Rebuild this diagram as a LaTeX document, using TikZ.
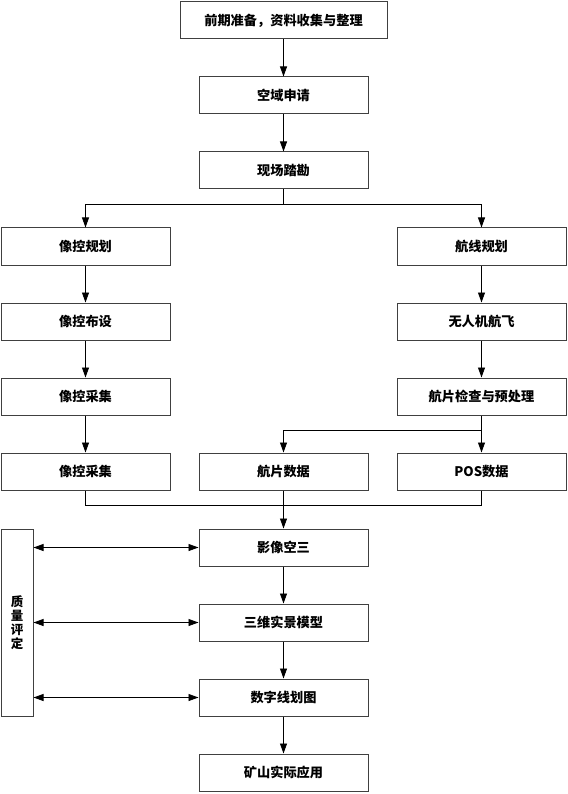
\documentclass[tikz,border=0pt]{standalone}
\usepackage{fontspec}
\usetikzlibrary{arrows.meta}
\newfontfamily\cjk{Noto Sans CJK SC}

\begin{document}
\begin{tikzpicture}[x=1pt,y=-1pt,line width=0.8pt,
    font=\cjk\bfseries\fontsize{13.2}{15}\selectfont,
    blk/.style={draw=black!75,line width=1pt,inner sep=0pt,minimum width=169pt,minimum height=37pt},
    arr/.style={-{Triangle[length=10pt,width=7pt]}},
    darr/.style={{Triangle[length=10pt,width=7pt]}-{Triangle[length=10pt,width=7pt]}}]
    \useasboundingbox (0,0) rectangle (567,794);
    %% main column
    \node (prep) at (283.5,20.5) [blk,minimum width=207pt] {前期准备，资料收集与整理};
    \node (airspace) at (283.5,95.5) [blk] {空域申请};
    \node (survey) at (283.5,170.5) [blk] {现场踏勘};
    %% left column
    \node (gcpplan) at (85.5,246.5) [blk] {像控规划};
    \node (gcplay) at (85.5,321.5) [blk] {像控布设};
    \node (gcpcol) at (85.5,396.5) [blk] {像控采集};
    \node (gcpdata) at (85.5,471.5) [blk] {像控采集};
    %% right column
    \node (route) at (481.5,246.5) [blk] {航线规划};
    \node (flight) at (481.5,321.5) [blk] {无人机航飞};
    \node (check) at (481.5,396.5) [blk] {航片检查与预处理};
    \node (photo) at (283.5,471.5) [blk] {航片数据};
    \node (pos) at (481.5,471.5) [blk] {POS数据};
    %% products
    \node (aat) at (283.5,547.5) [blk] {影像空三};
    \node (model) at (283.5,622.5) [blk] {三维实景模型};
    \node (dlg) at (283.5,697.5) [blk] {数字线划图};
    \node (app) at (283.5,772.5) [blk] {矿山实际应用};
    \node (quality) at (17,622.5) [blk,minimum width=32pt,minimum height=187pt,align=center,
      font=\cjk\bfseries\fontsize{12.5}{14}\selectfont] {质\\量\\评\\定};
    \coordinate (split) at (283.5,204);
    \coordinate (branch) at (481.5,430);
    \coordinate (merge) at (283.5,505);
    \draw[arr] (prep) -- (airspace);
    \draw[arr] (airspace) -- (survey);
    \draw (survey) -- (split);
    \draw[arr] (split) -| (gcpplan);
    \draw[arr] (split) -| (route);
    \draw[arr] (gcpplan) -- (gcplay);
    \draw[arr] (gcplay) -- (gcpcol);
    \draw[arr] (gcpcol) -- (gcpdata);
    \draw[arr] (route) -- (flight);
    \draw[arr] (flight) -- (check);
    \draw (check) -- (branch);
    \draw[arr] (branch) -| (photo);
    \draw[arr] (branch) -- (pos);
    \draw (gcpdata) |- (merge);
    \draw (pos) |- (merge);
    \draw[arr] (photo) -- (aat);
    \draw[arr] (aat) -- (model);
    \draw[arr] (model) -- (dlg);
    \draw[arr] (dlg) -- (app);
    \draw[darr] (quality.east |- aat) -- (aat.west);
    \draw[darr] (quality.east |- model) -- (model.west);
    \draw[darr] (quality.east |- dlg) -- (dlg.west);
\end{tikzpicture}
\end{document}
